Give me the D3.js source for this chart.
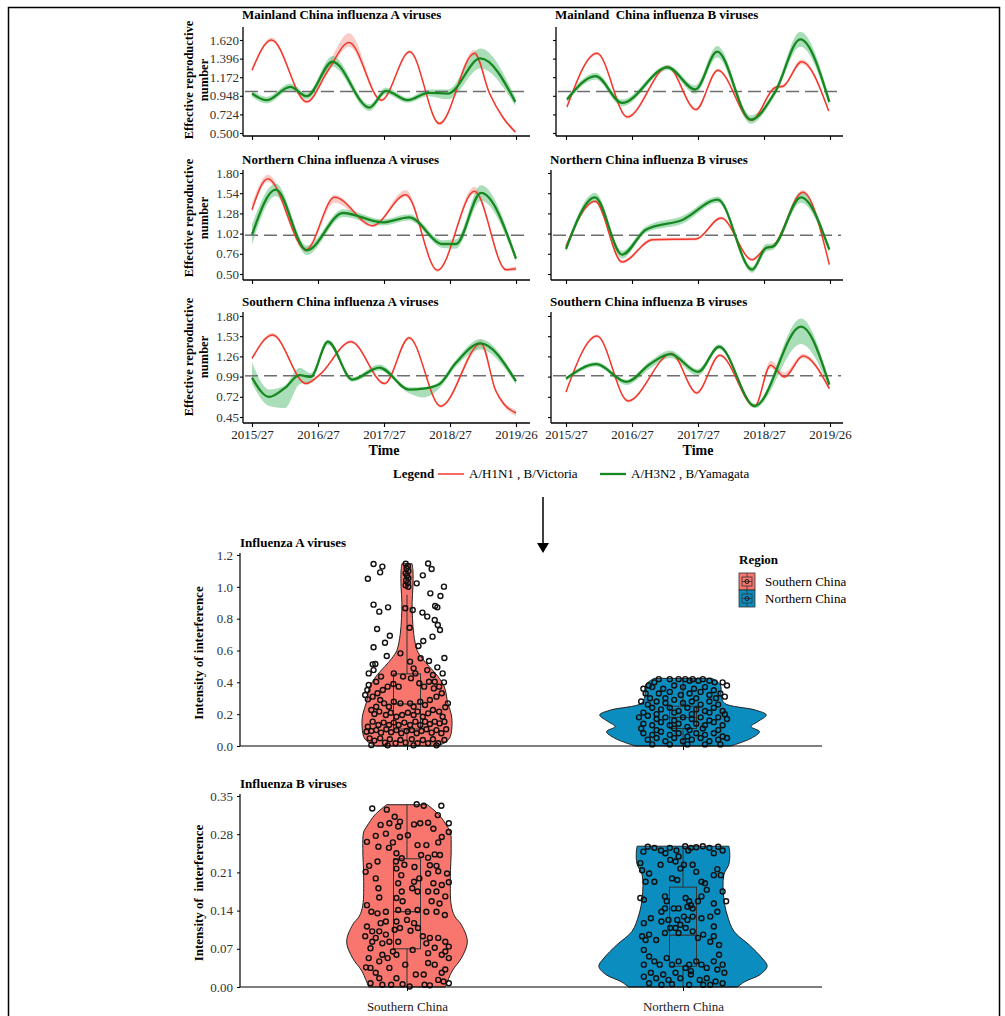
<!DOCTYPE html>
<html>
<head>
<meta charset="utf-8">
<script src="https://cdn.jsdelivr.net/npm/d3@7"></script>
<style>
body { margin: 0; background: #fff; }
text { font-family: "Liberation Serif", "Times New Roman", serif; }
</style>
</head>
<body>
<svg id="chart" width="1005" height="1016"></svg>
<script>
// ---------- data: effective reproductive number ----------
const timeTicks = [0, 1, 2, 3, 4]
const timeLabels = ['2015/27', '2016/27', '2017/27', '2018/27', '2019/26']
const seriesNames = ['A/H1N1 , B/Victoria', 'A/H3N2 , B/Yamagata']

const ticksMainland = [0.500, 0.724, 0.948, 1.172, 1.396, 1.620]
const ticksNorthern = [0.50, 0.76, 1.02, 1.28, 1.54, 1.80]
const ticksSouthern = [0.45, 0.72, 0.99, 1.26, 1.53, 1.80]

// [years since 2015/27, Rt, band below, band above]
const mainlandA_h1 = [[0,1.257,.02,.02],[0.295,1.62,.02,.03],[0.83,0.875,.02,.02],[1.15,1.25,.03,.07],[1.47,1.59,.05,.11],[1.96,0.895,.02,.02],[2.39,1.479,.02,.02],[2.84,0.613,.02,.02],[3.37,1.459,.03,.04],[3.6,0.975,.02,.02],[3.8,0.69,.02,.02],[3.99,0.512,.02,.02]]
const mainlandA_h3 = [[0,0.975,.04,.04],[0.22,0.895,.04,.04],[0.58,1.056,.04,.04],[0.83,0.943,.04,.04],[1.22,1.358,.06,.07],[1.78,0.806,.04,.04],[2.03,1.008,.04,.04],[2.36,0.895,.03,.03],[2.67,0.983,.04,.04],[2.97,0.975,.07,.05],[3.46,1.398,.12,.12],[3.99,0.875,.05,.05]]
const mainlandB_vic = [[0.015,0.814,.02,.02],[0.47,1.459,.02,.02],[0.93,0.693,.02,.02],[1.54,1.298,.02,.02],[1.97,0.782,.02,.02],[2.30,1.257,.02,.02],[2.81,0.653,.02,.02],[3.17,1.048,.02,.02],[3.29,1.064,.02,.02],[3.57,1.358,.03,.03],[3.98,0.766,.02,.02]]
const mainlandB_yam = [[0.015,0.903,.03,.03],[0.45,1.185,.04,.04],[0.85,0.862,.04,.04],[1.54,1.29,.03,.03],[1.96,1.024,.05,.05],[2.29,1.479,.07,.07],[2.80,0.661,.05,.05],[3.17,0.996,.04,.04],[3.55,1.628,.09,.09],[3.99,0.875,.05,.05]]

const northA_h1 = [[0,1.328,.03,.08],[0.24,1.727,.04,.05],[0.82,0.813,.03,.03],[1.25,1.487,.07,.03],[1.83,1.122,.02,.02],[2.33,1.521,.03,.06],[2.81,0.547,.02,.02],[3.37,1.564,.03,.06],[3.85,0.556,.02,.02],[4.0,0.569,.03,.03]]
const northA_h3 = [[0,1.006,.13,.13],[0.36,1.585,.08,.08],[0.83,0.805,.06,.06],[1.38,1.285,.05,.05],[1.98,1.165,.04,.04],[2.38,1.23,.04,.04],[2.89,0.886,.05,.05],[3.09,0.886,.06,.06],[3.47,1.543,.1,.1],[4.0,0.697,.04,.04]]
const northB_vic = [[0,0.856,.02,.02],[0.44,1.435,.02,.02],[0.85,0.654,.02,.02],[1.31,0.942,.02,.02],[1.97,0.95,.02,.02],[2.35,1.22,.02,.02],[2.82,0.684,.02,.02],[3.03,0.835,.02,.02],[3.13,0.856,.02,.02],[3.59,1.551,.03,.03],[3.99,0.62,.02,.02]]
const northB_yam = [[0,0.822,.04,.04],[0.44,1.487,.06,.06],[0.85,0.749,.05,.05],[1.21,1.071,.04,.04],[1.77,1.199,.05,.05],[2.30,1.457,.04,.04],[2.82,0.556,.04,.04],[3.03,0.835,.05,.05],[3.14,0.856,.04,.04],[3.56,1.487,.07,.07],[3.99,0.813,.04,.04]]

const southA_h1 = [[0,1.232,.02,.02],[0.31,1.545,.02,.03],[0.82,0.897,.02,.02],[1.02,1.009,.02,.02],[1.50,1.456,.02,.02],[2.01,0.897,.02,.02],[2.38,1.51,.02,.02],[2.86,0.593,.02,.02],[3.47,1.433,.05,.05],[3.69,0.808,.03,.03],[3.82,0.62,.03,.03],[4.0,0.504,.04,.04]]
const southA_h3 = [[0,0.977,.08,.2],[0.26,0.718,.12,.1],[0.5,0.84,.27,.03],[0.72,1.009,.12,.1],[0.89,0.986,.06,.05],[1.15,1.456,.04,.03],[1.52,0.95,.03,.03],[1.93,1.111,.04,.04],[2.38,0.817,.05,.03],[2.6,0.83,.12,.02],[2.83,0.884,.06,.03],[3.09,1.174,.05,.04],[3.46,1.433,.08,.06],[4.0,0.928,.04,.03]]
const southB_vic = [[0,0.785,.02,.02],[0.47,1.532,.02,.02],[0.94,0.665,.02,.02],[1.60,1.299,.02,.02],[1.98,0.772,.02,.02],[2.33,1.277,.02,.02],[2.86,0.593,.02,.02],[3.10,1.143,.04,.06],[3.31,0.986,.02,.06],[3.59,1.264,.03,.03],[3.99,0.83,.02,.02]]
const southB_yam = [[0,0.964,.03,.02],[0.46,1.156,.03,.03],[0.92,0.919,.04,.03],[1.27,1.156,.06,.04],[1.58,1.29,.05,.05],[2.00,1.053,.05,.04],[2.32,1.389,.03,.03],[2.86,0.597,.03,.03],[3.56,1.657,.23,.11],[3.99,0.884,.05,.04]]

// ---------- data: intensity of interference ----------
const regions = ['Southern China', 'Northern China']
const ticksIntA = [0.0, 0.2, 0.4, 0.6, 0.8, 1.0, 1.2]
const ticksIntB = [0.00, 0.07, 0.14, 0.21, 0.28, 0.35]

// violin outline: [value, relative density]
const violinA_south = [[0,0.36],[0.03,0.47],[0.06,0.51],[0.14,0.53],[0.2,0.52],[0.27,0.48],[0.37,0.44],[0.44,0.36],[0.5,0.26],[0.55,0.18],[0.6,0.12],[0.7,0.08],[0.8,0.065],[0.9,0.06],[1.0,0.07],[1.1,0.07],[1.145,0.06]]
const violinA_north = [[0,0.56],[0.048,0.8],[0.09,0.9],[0.122,0.8],[0.153,0.88],[0.195,0.98],[0.226,0.85],[0.268,0.49],[0.31,0.45],[0.383,0.44],[0.425,0.34]]
const violinB_south = [[0,0.45],[0.029,0.53],[0.053,0.64],[0.083,0.71],[0.114,0.64],[0.13,0.56],[0.15,0.52],[0.2,0.51],[0.254,0.52],[0.284,0.51],[0.295,0.47],[0.315,0.38],[0.334,0.24]]
const violinB_north = [[0,0.64],[0.01,0.73],[0.023,0.91],[0.038,0.99],[0.053,0.93],[0.077,0.78],[0.102,0.6],[0.132,0.52],[0.163,0.48],[0.205,0.48],[0.225,0.54],[0.245,0.55],[0.258,0.54]]

// box stats: [min, q1, median, q3, max]
const boxA_south = [0, 0.107, 0.264, 0.453, 0.95]
const boxA_north = [0, 0.11, 0.18, 0.25, 0.425]
const boxB_south = [0, 0.07, 0.138, 0.235, 0.334]
const boxB_north = [0, 0.038, 0.095, 0.183, 0.258]

// jittered points: [jitter (-1..1), value]
const pointsA_south = [[-0.76,1.143],[-0.56,1.127],[-0.61,1.091],[-0.89,1.051],[0.48,1.147],[0.56,1.112],[0.36,1.072],[0.22,1.022],[0.84,1.001],[0.53,0.959],[0.76,0.942],[-0.76,0.888],[-0.63,0.844],[-0.43,0.871],[-0.04,0.865],[0.13,0.854],[0.63,0.792],[0.46,0.813],[0.35,0.838],[0.64,0.88],[0.69,0.871],[-0.68,0.735],[0.06,0.743],[-0.39,0.693],[0.70,0.76],[0.75,0.729],[0.58,0.687],[0.37,0.66],[-0.5,0.649],[-0.76,0.62],[0.26,0.628],[-0.15,0.582],[-0.46,0.565],[0.85,0.553],[0.5,0.534],[0.31,0.551],[0.07,0.53],[-0.78,0.513],[-0.72,0.515],[-0.87,0.456],[-0.76,0.477],[0.69,0.494],[0.81,0.456],[0.84,0.40],
[-0.03,1.145],[0.02,1.13],[-0.01,1.115],[0.03,1.1],[-0.03,1.085],[0,1.07],[0.03,1.055],[-0.02,1.04],[0.02,1.025],[-0.03,1.01],[0.03,1.0],
[-0.9,0.352],[-0.87,0.383],[-0.95,0.32],[-0.89,0.293],[-0.78,0.31],[-0.67,0.331],[-0.61,0.289],[-0.55,0.352],[-0.44,0.373],[-0.31,0.39],[-0.19,0.373],[-0.09,0.436],[0.09,0.425],[0.19,0.456],[0.28,0.394],[0.39,0.373],[0.5,0.404],[0.61,0.362],[0.73,0.373],[0.79,0.331],[0.67,0.31],[0.52,0.289],[0.41,0.258],[0.3,0.278],[0.15,0.247],[0.07,0.268],[-0.15,0.268],[-0.3,0.278],[-0.41,0.247],[-0.52,0.268],[-0.7,0.247],[-0.81,0.226],[-0.74,0.201],[-0.63,0.216],[-0.48,0.195],[-0.37,0.209],[-0.24,0.184],[-0.11,0.195],[0.02,0.209],[0.15,0.195],[0.24,0.216],[0.36,0.184],[0.48,0.205],[0.59,0.226],[0.73,0.216],[0.87,0.243],[0.93,0.268],[0.81,0.184],[0.85,0.153],[0.74,0.142],[0.63,0.153],[0.52,0.138],[0.41,0.153],[0.3,0.132],[0.19,0.153],[0.07,0.132],[-0.06,0.147],[-0.19,0.132],[-0.3,0.147],[-0.41,0.132],[-0.53,0.147],[-0.65,0.132],[-0.78,0.153],[-0.89,0.121],[-0.92,0.09],[-0.81,0.094],[-0.7,0.1],[-0.59,0.084],[-0.47,0.105],[-0.36,0.086],[-0.24,0.1],[-0.13,0.08],[-0.01,0.094],[0.11,0.1],[0.22,0.08],[0.33,0.094],[0.44,0.105],[0.56,0.084],[0.67,0.1],[0.78,0.08],[0.89,0.105],[-0.85,0.048],[-0.74,0.034],[-0.61,0.048],[-0.5,0.021],[-0.39,0.042],[-0.26,0.017],[-0.15,0.038],[-0.03,0.021],[0.11,0.042],[0.24,0.017],[0.36,0.038],[0.48,0.017],[0.59,0.042],[0.71,0.017],[0.85,0.038],[-0.81,0.006],[-0.44,0.004],[0.15,0.004],[0.67,0.004],[-0.59,0.436],[-0.7,0.404],[-0.3,0.456],[0.15,0.488],[0.59,0.446],[0.46,0.477],[0.63,0.404]]
const pointsA_north = [[-0.55,0.42],[-0.3,0.42],[-0.1,0.42],[0.05,0.42],[0.22,0.42],[0.45,0.42],[0.6,0.41],[0.72,0.40],[0.9,0.40],[1.0,0.38],[-0.78,0.38],[-0.9,0.36],[-0.65,0.40],[0.15,0.41],[0.35,0.41],
[-0.7,0.37],[-0.45,0.36],[-0.2,0.38],[0.0,0.37],[0.25,0.36],[0.5,0.37],[0.7,0.35],[-0.85,0.33],[-0.55,0.33],[-0.3,0.34],[-0.05,0.32],[0.15,0.33],[0.4,0.34],[0.6,0.32],[0.85,0.33],[0.95,0.31],[-0.75,0.30],[-0.4,0.30],[0.3,0.30],[0.75,0.30],
[-0.95,0.28],[-0.8,0.26],[-0.6,0.28],[-0.4,0.27],[-0.2,0.29],[0.0,0.27],[0.2,0.28],[0.4,0.26],[0.6,0.28],[0.8,0.26],[-0.7,0.24],[-0.5,0.23],[-0.3,0.24],[-0.1,0.22],[0.1,0.24],[0.3,0.23],[0.5,0.22],[0.7,0.24],[0.9,0.22],[-0.9,0.21],[-0.6,0.20],[-0.2,0.21],[0.2,0.20],[0.6,0.21],[0.95,0.20],
[-1.0,0.18],[-0.8,0.19],[-0.6,0.17],[-0.4,0.18],[-0.2,0.16],[0.0,0.18],[0.2,0.17],[0.4,0.18],[0.6,0.16],[0.8,0.18],[1.0,0.17],[-0.9,0.14],[-0.7,0.13],[-0.5,0.15],[-0.3,0.13],[-0.1,0.14],[0.1,0.12],[0.3,0.14],[0.5,0.13],[0.7,0.15],[0.9,0.13],[-0.95,0.11],[-0.6,0.10],[-0.2,0.11],[0.15,0.10],[0.45,0.11],[0.8,0.10],
[-0.9,0.08],[-0.7,0.07],[-0.5,0.09],[-0.3,0.07],[-0.1,0.08],[0.1,0.06],[0.3,0.08],[0.5,0.07],[0.7,0.08],[0.9,0.06],[-0.8,0.04],[-0.6,0.05],[-0.4,0.03],[-0.2,0.05],[0.0,0.03],[0.2,0.04],[0.4,0.05],[0.6,0.03],[0.8,0.04],[1.0,0.05],[-0.7,0.01],[-0.3,0.01],[0.1,0.01],[0.5,0.01],[0.85,0.01]]
const pointsB_south = [[-0.79,0.327],[-0.46,0.325],[0.22,0.335],[0.38,0.332],[0.78,0.332],[0.70,0.315],[0.95,0.30],[-0.28,0.312],[-0.6,0.297],[-0.4,0.3],[-0.2,0.294],[-0.16,0.303],[0.16,0.298],[0.3,0.3],[0.48,0.301],[0.6,0.29],[0.79,0.275],[0.95,0.284],[-0.91,0.266],[-0.71,0.277],[-0.48,0.281],[-0.32,0.265],[-0.16,0.275],[0.02,0.278],[0.24,0.26],[0.44,0.26],[0.71,0.265],[-0.65,0.257],[-0.41,0.255],[-0.86,0.222],[-0.67,0.23],[-0.94,0.211],[-0.71,0.199],[-0.65,0.181],[-0.63,0.164],[-0.24,0.245],[-0.12,0.236],[-0.25,0.23],[-0.06,0.224],[-0.24,0.217],[-0.13,0.205],[-0.2,0.19],[-0.12,0.175],[-0.24,0.163],[-0.1,0.157],[0.16,0.193],[0.28,0.199],[0.12,0.181],[0.24,0.175],[0.17,0.22],[0.32,0.242],[0.48,0.237],[0.63,0.243],[0.75,0.242],[0.52,0.223],[0.67,0.222],[0.48,0.208],[0.71,0.212],[0.91,0.208],[0.95,0.192],[0.6,0.19],[0.79,0.187],[0.48,0.175],[0.67,0.175],[0.87,0.166],[0.56,0.157],[0.74,0.153],[0.44,0.138],[0.67,0.138],[0.86,0.132],[0.24,0.141],[0.02,0.138],[-0.2,0.141],[-0.48,0.138],[-0.81,0.138],[-0.91,0.15],[-0.67,0.135],[-0.48,0.12],[-0.24,0.12],[0,0.123],[0.16,0.117],[0.25,0.108],[0.08,0.103],[-0.16,0.108],[-0.28,0.105],[-0.63,0.102],[-0.79,0.102],[-0.91,0.111],[-0.6,0.117],[-0.95,0.093],[-0.71,0.09],[-0.48,0.096],[-0.4,0.083],[-0.2,0.083],[-0.56,0.08],[-0.79,0.083],[0.36,0.093],[0.52,0.09],[0.71,0.09],[0.87,0.083],[0.44,0.08],[0.63,0.072],[0.95,0.074],[0.87,0.065],[0.95,0.053],[0.79,0.059],[0.48,0.062],[0.13,0.068],[-0.32,0.065],[-0.56,0.059],[-0.83,0.071],[-0.87,0.053],[-0.63,0.047],[-0.44,0.053],[-0.24,0.059],[-0.04,0.041],[0.48,0.044],[0.63,0.041],[-0.93,0.036],[-0.83,0.035],[-0.4,0.035],[0.2,0.023],[0.38,0.023],[0.79,0.026],[0.87,0.032],[-0.71,0.026],[-0.63,0.016],[-0.24,0.016],[0.71,0.013],[0.83,0.01],[0.95,0.007],[-0.83,0.007],[-0.56,0.004],[-0.36,0.004],[-0.1,0.005],[0.06,0.001],[0.4,0.004],[0.52,0.003]]
const pointsB_north = [[-0.8,0.257],[-0.65,0.255],[-0.5,0.25],[-0.3,0.255],[-0.15,0.25],[0.05,0.258],[0.18,0.255],[0.3,0.256],[0.45,0.258],[0.6,0.255],[0.8,0.257],[0.9,0.25],[-0.9,0.248],[0.12,0.25],[0.7,0.245],[-0.4,0.245],
[-0.97,0.227],[-0.93,0.214],[-0.77,0.208],[-0.65,0.193],[-0.85,0.193],[-0.51,0.224],[-0.29,0.233],[-0.17,0.23],[-0.1,0.239],[0.02,0.224],[-0.06,0.217],[0.22,0.224],[0.3,0.211],[0.42,0.193],[0.5,0.19],[0.54,0.178],[0.78,0.216],[0.86,0.205],[0.7,0.205],[0.9,0.175],[0.98,0.157],[0.7,0.153],[0.34,0.157],[0.42,0.166],[-0.97,0.163],[-0.89,0.16],[-0.25,0.199],[-0.13,0.196],[-0.41,0.166],[-0.37,0.157],[-0.41,0.144],[-0.49,0.138],[-0.21,0.144],[0.06,0.163],[0.14,0.157],[0.18,0.15],[0.22,0.144],[0.1,0.147],[-0.1,0.144],[0.02,0.129],[0.22,0.129],[0.1,0.123],[-0.13,0.123],[-0.06,0.114],[-0.17,0.108],[-0.33,0.123],[-0.49,0.12],[-0.73,0.126],[-0.89,0.117],[-0.93,0.093],[-0.85,0.086],[-0.77,0.096],[-0.61,0.086],[-0.41,0.099],[-0.29,0.108],[-0.1,0.099],[0.06,0.108],[0.22,0.102],[0.34,0.09],[0.46,0.096],[0.62,0.083],[0.7,0.093],[0.82,0.077],[0.7,0.111],[0.62,0.129],[0.78,0.138],[0.42,0.126],
[-0.89,0.068],[-0.77,0.056],[-0.65,0.047],[-0.89,0.041],[-0.53,0.041],[-0.37,0.053],[-0.25,0.041],[-0.1,0.047],[0.06,0.035],[0.18,0.029],[0.14,0.041],[0.3,0.047],[0.42,0.041],[0.54,0.035],[0.7,0.047],[0.82,0.059],[0.9,0.041],[0.94,0.026],[0.78,0.032],[-0.73,0.026],[-0.89,0.019],[-0.61,0.016],[-0.45,0.023],[-0.33,0.013],[-0.17,0.026],[-0.06,0.016],[0.18,0.023],[0.38,0.013],[0.54,0.016],[0.74,0.01],[0.9,0.007],[-0.77,0.007],[-0.49,0.004],[-0.25,0.005],[0.14,0.004],[0.46,0.004],[0.62,0.004]]

// ---------- drawing ----------
const svg = d3.select('#chart')
const red = '#f2382c', redBand = '#f7a8a2'
const green = '#16881f', greenBand = '#62c27d'
const regionFill = {'Southern China': '#f8766d', 'Northern China': '#0b8dbf'}

// outer frame
svg.append('rect').attr('x', 8.5).attr('y', 7.5).attr('width', 991).attr('height', 1030)
    .attr('fill', 'none').attr('stroke', '#000').attr('stroke-width', 1.5)

const rows = [
    {ticks: ticksMainland, fmt: '.3f', top: 27, bottom: 136, tLo: 133, tHi: 40, titleY: 19, midY: 80},
    {ticks: ticksNorthern, fmt: '.2f', top: 170, bottom: 280, tLo: 274, tHi: 173, titleY: 164, midY: 218},
    {ticks: ticksSouthern, fmt: '.2f', top: 312, bottom: 423, tLo: 417, tHi: 316, titleY: 306, midY: 357},
]
const cols = [
    {axisX: 243, t0: 252, t1: 516, end: 530},
    {axisX: 551, t0: 566, t1: 830, end: 843},
]
const panels = [
    {row: 0, col: 0, title: 'Mainland China influenza A viruses', s1: mainlandA_h1, s2: mainlandA_h3},
    {row: 0, col: 1, title: 'Mainland  China influenza B viruses', s1: mainlandB_vic, s2: mainlandB_yam, axisX: 556},
    {row: 1, col: 0, title: 'Northern China influenza A viruses', s1: northA_h1, s2: northA_h3},
    {row: 1, col: 1, title: 'Northern China influenza B viruses', s1: northB_vic, s2: northB_yam},
    {row: 2, col: 0, title: 'Southern China influenza A viruses', s1: southA_h1, s2: southA_h3},
    {row: 2, col: 1, title: 'Southern China influenza B viruses', s1: southB_vic, s2: southB_yam},
]

panels.forEach(p => {
    const r = rows[p.row], c = cols[p.col]
    const axisX = p.axisX || c.axisX
    const x = d3.scaleLinear().domain([0, 4]).range([c.t0, c.t1])
    const y = d3.scaleLinear().domain([r.ticks[0], r.ticks[5]]).range([r.tLo, r.tHi])
    const g = svg.append('g')

    g.append('text')
        .attr('x', axisX - 1).attr('y', r.titleY)
        .attr('font-size', 13).attr('font-weight', 'bold')
        .style('white-space', 'pre')
        .text(p.title)

    const band = d3.area().curve(d3.curveMonotoneX)
        .x(d => x(d[0])).y0(d => y(d[1] - d[2])).y1(d => y(d[1] + d[3]))
    const line = d3.line().curve(d3.curveMonotoneX)
        .x(d => x(d[0])).y(d => y(d[1]))

    g.append('path').datum(p.s1).attr('d', band).attr('fill', redBand).attr('opacity', 0.6)
    g.append('path').datum(p.s2).attr('d', band).attr('fill', greenBand).attr('opacity', 0.55)

    g.append('line')
        .attr('x1', axisX + 2).attr('x2', c.end - 2)
        .attr('y1', y(1)).attr('y2', y(1))
        .attr('stroke', '#6e6e6e').attr('stroke-width', 1.5)
        .attr('stroke-dasharray', '13,6')

    g.append('path').datum(p.s1).attr('d', line)
        .attr('fill', 'none').attr('stroke', red).attr('stroke-width', 1.5)
    g.append('path').datum(p.s2).attr('d', line)
        .attr('fill', 'none').attr('stroke', green).attr('stroke-width', 2.3)

    // y axis
    const ya = g.append('g').attr('transform', `translate(${axisX},0)`)
        .call(d3.axisLeft(y).tickValues(r.ticks).tickSize(3).tickPadding(1)
            .tickFormat(p.col === 0 ? d3.format(r.fmt) : () => ''))
    ya.select('.domain').remove()
    ya.selectAll('text').attr('font-size', 13).attr('fill', '#333').attr('font-family', '"Liberation Serif", serif')
    ya.selectAll('line').attr('stroke-width', 1.1)
    g.append('line').attr('x1', axisX).attr('x2', axisX).attr('y1', r.top).attr('y2', r.bottom)
        .attr('stroke', '#000').attr('stroke-width', 1.3)

    // x axis
    const xa = g.append('g').attr('transform', `translate(0,${r.bottom})`)
        .call(d3.axisBottom(x).tickValues(timeTicks).tickSize(4).tickPadding(3)
            .tickFormat(p.row === 2 ? (d, i) => timeLabels[i] : () => ''))
    xa.select('.domain').remove()
    xa.selectAll('text').attr('font-size', 13).attr('fill', '#222').attr('font-family', '"Liberation Serif", serif')
    xa.selectAll('line').attr('stroke-width', 1.1)
    g.append('line').attr('x1', axisX).attr('x2', c.end).attr('y1', r.bottom).attr('y2', r.bottom)
        .attr('stroke', '#000').attr('stroke-width', 1.3)

    if (p.row === 2) {
        g.append('text').attr('x', (c.t0 + c.t1) / 2).attr('y', 455)
            .attr('text-anchor', 'middle').attr('font-size', 14).attr('font-weight', 'bold')
            .text('Time')
    }
    if (p.col === 0) {
        const t = g.append('text').attr('transform', `translate(193,${r.midY}) rotate(-90)`)
            .attr('text-anchor', 'middle').attr('font-size', 12.5).attr('font-weight', 'bold')
        t.append('tspan').attr('x', 0).attr('y', 0).text('Effective reproductive')
        t.append('tspan').attr('x', 0).attr('y', 15).text('number')
    }
})

// legend for Rt panels
const lg = svg.append('g')
lg.append('text').attr('x', 393).attr('y', 478).attr('font-size', 13).attr('font-weight', 'bold').text('Legend')
const legendItems = [
    {name: seriesNames[0], color: red, x: 438, w: 1.5},
    {name: seriesNames[1], color: green, x: 600, w: 2.3},
]
legendItems.forEach(d => {
    lg.append('line').attr('x1', d.x).attr('x2', d.x + 26).attr('y1', 474).attr('y2', 474)
        .attr('stroke', d.color).attr('stroke-width', d.w)
    lg.append('text').attr('x', d.x + 31).attr('y', 478).attr('font-size', 13).text(d.name)
})

// arrow
svg.append('line').attr('x1', 543).attr('x2', 543).attr('y1', 497).attr('y2', 546)
    .attr('stroke', '#000').attr('stroke-width', 1.5)
svg.append('path').attr('d', 'M537,543 L549,543 L543,553 Z').attr('fill', '#000')

// ---------- violin panels ----------
const xCat = d3.scalePoint().domain(regions).range([407, 683])
const widthScale = d3.scaleLinear().domain([0, 1]).range([0, 85])
const jitterW = 44

const violinPanels = [
    {title: 'Influenza A viruses', ticks: ticksIntA, fmt: '.1f', top: 553, bottom: 746, tHi: 555, titleY: 547, midY: 653,
        groups: [[violinA_south, boxA_south, pointsA_south], [violinA_north, boxA_north, pointsA_north]], labels: false},
    {title: 'Influenza B viruses', ticks: ticksIntB, fmt: '.2f', top: 794, bottom: 987, tHi: 796, titleY: 788, midY: 893,
        groups: [[violinB_south, boxB_south, pointsB_south], [violinB_north, boxB_north, pointsB_north]], labels: true},
]

violinPanels.forEach(p => {
    const y = d3.scaleLinear().domain([0, p.ticks[p.ticks.length - 1]]).range([p.bottom, p.tHi])
    const g = svg.append('g')
    g.append('text').attr('x', 240).attr('y', p.titleY).attr('font-size', 13).attr('font-weight', 'bold').text(p.title)

    p.groups.forEach((grp, i) => {
        const [outline, box, pts] = grp
        const cx = xCat(regions[i])
        const area = d3.area().curve(d3.curveCatmullRom)
            .y(d => y(d[0]))
            .x0(d => cx - widthScale(d[1]))
            .x1(d => cx + widthScale(d[1]))
        g.append('path').datum(outline).attr('d', area)
            .attr('fill', regionFill[regions[i]]).attr('stroke', '#222').attr('stroke-width', 1)

        // box plot
        const bw = 13.5
        g.append('line').attr('x1', cx).attr('x2', cx).attr('y1', y(box[0])).attr('y2', y(box[1]))
            .attr('stroke', '#333').attr('stroke-width', 1)
        g.append('line').attr('x1', cx).attr('x2', cx).attr('y1', y(box[3])).attr('y2', y(box[4]))
            .attr('stroke', '#333').attr('stroke-width', 1)
        g.append('rect').attr('x', cx - bw).attr('width', bw * 2)
            .attr('y', y(box[3])).attr('height', y(box[1]) - y(box[3]))
            .attr('fill', 'none').attr('stroke', '#333').attr('stroke-width', 1)
        g.append('line').attr('x1', cx - bw).attr('x2', cx + bw).attr('y1', y(box[2])).attr('y2', y(box[2]))
            .attr('stroke', '#333').attr('stroke-width', 1.2)

        g.append('g').selectAll('circle').data(pts).join('circle')
            .attr('cx', d => cx + d[0] * jitterW)
            .attr('cy', d => y(d[1]))
            .attr('r', 2.5)
            .attr('fill', 'none').attr('stroke', '#111').attr('stroke-width', 1.4)
    })

    const ya = g.append('g').attr('transform', 'translate(240,0)')
        .call(d3.axisLeft(y).tickValues(p.ticks).tickSize(3).tickPadding(4).tickFormat(d3.format(p.fmt)))
    ya.select('.domain').remove()
    ya.selectAll('text').attr('font-size', 13).attr('fill', '#333').attr('font-family', '"Liberation Serif", serif')
    g.append('line').attr('x1', 240).attr('x2', 240).attr('y1', p.top).attr('y2', p.bottom)
        .attr('stroke', '#000').attr('stroke-width', 1.2)

    const xa = g.append('g').attr('transform', `translate(0,${p.bottom})`)
        .call(d3.axisBottom(xCat).tickSize(4).tickPadding(11).tickFormat(p.labels ? d => d : () => ''))
    xa.select('.domain').remove()
    xa.selectAll('text').attr('font-size', 13).attr('fill', '#222').attr('font-family', '"Liberation Serif", serif')
    g.append('line').attr('x1', 240).attr('x2', 822).attr('y1', p.bottom).attr('y2', p.bottom)
        .attr('stroke', '#000').attr('stroke-width', 1.2)

    g.append('text').attr('transform', `translate(203,${p.midY}) rotate(-90)`)
        .attr('text-anchor', 'middle').attr('font-size', 13).attr('font-weight', 'bold')
        .style('white-space', 'pre')
        .text(p.labels ? 'Intensity of  interference' : 'Intensity of interference')
})

// region legend
const rg = svg.append('g')
rg.append('text').attr('x', 739).attr('y', 564).attr('font-size', 13).attr('font-weight', 'bold').text('Region')
regions.forEach((name, i) => {
    const ky = 573 + i * 17
    const k = rg.append('g').attr('transform', `translate(739,${ky})`)
    k.append('rect').attr('width', 16).attr('height', 17).attr('fill', regionFill[name])
        .attr('stroke', '#333').attr('stroke-width', 0.8)
    k.append('line').attr('x1', 8).attr('x2', 8).attr('y1', 0).attr('y2', 17).attr('stroke', '#333').attr('stroke-width', 0.8)
    k.append('rect').attr('x', 3).attr('y', 4).attr('width', 10).attr('height', 9)
        .attr('fill', regionFill[name]).attr('stroke', '#333').attr('stroke-width', 0.8)
    k.append('line').attr('x1', 3).attr('x2', 13).attr('y1', 8.5).attr('y2', 8.5).attr('stroke', '#333').attr('stroke-width', 0.8)
    k.append('circle').attr('cx', 8).attr('cy', 8.5).attr('r', 2).attr('fill', 'none').attr('stroke', '#111').attr('stroke-width', 1)
    rg.append('text').attr('x', 765).attr('y', ky + 13).attr('font-size', 13).text(name)
})
</script>
</body>
</html>
